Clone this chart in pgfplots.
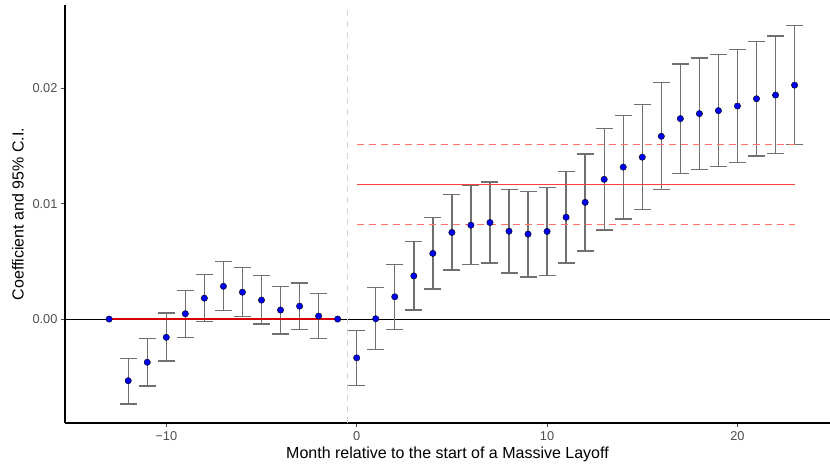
\documentclass[border=0pt]{standalone}
\usepackage{pgfplots}
\pgfplotsset{compat=1.18}
\usepackage{pgfplotstable}
\usepackage{fontspec}
\setmainfont{Liberation Sans}

\definecolor{ptblue}{HTML}{0000F0}
\definecolor{cigray}{HTML}{707070}
\definecolor{tickgray}{HTML}{4D4D4D}
\definecolor{avgred}{HTML}{FF4040}
\definecolor{bandred}{HTML}{FF7070}
\definecolor{vgray}{HTML}{D6D6D6}

% event-study coefficients and 95% CI bounds
\pgfplotstableread{
x y lo hi
-12 -0.00534 -0.00736 -0.00339
-11 -0.00374 -0.00580 -0.00167
-10 -0.00158 -0.00362 0.00052
-9 0.00046 -0.00161 0.00250
-8 0.00181 -0.00023 0.00388
-7 0.00284 0.00072 0.00497
-6 0.00233 0.00020 0.00448
-5 0.00164 -0.00043 0.00376
-4 0.00078 -0.00129 0.00284
-3 0.00112 -0.00092 0.00313
-2 0.00026 -0.00170 0.00224
0 -0.00336 -0.00575 -0.00098
1 0.00003 -0.00264 0.00273
2 0.00193 -0.00089 0.00474
3 0.00374 0.00078 0.00672
4 0.00569 0.00261 0.00879
5 0.00750 0.00425 0.01080
6 0.00813 0.00474 0.01155
7 0.00836 0.00486 0.01187
8 0.00761 0.00400 0.01124
9 0.00736 0.00365 0.01106
10 0.00759 0.00376 0.01140
11 0.00882 0.00486 0.01276
12 0.01011 0.00589 0.01431
13 0.01210 0.00770 0.01649
14 0.01316 0.00865 0.01764
15 0.01402 0.00948 0.01859
16 0.01583 0.01121 0.02049
17 0.01736 0.01261 0.02210
18 0.01779 0.01296 0.02262
19 0.01805 0.01322 0.02290
20 0.01845 0.01356 0.02333
21 0.01908 0.01411 0.02402
22 0.01940 0.01434 0.02451
23 0.02026 0.01511 0.02540
}\coef

\begin{document}
\begin{tikzpicture}
\path[use as bounding box] (0,0) rectangle (830bp,468bp);
\begin{axis}[
    at={(65bp,45bp)}, anchor=south west,
    scale only axis,
    width=765bp, height=418bp,
    xmin=-15.32, xmax=24.86,
    ymin=-0.0090, ymax=0.0272,
    axis lines*=left,
    axis line style={-, black, line width=1.1bp},
    tick align=outside,
    major tick length=4bp,
    tick style={tickgray, line width=0.9bp},
    scaled y ticks=false,
    xtick={-10,0,10,20},
    xticklabels={−10,0,10,20},
    ytick={0,0.01,0.02},
    yticklabels={0.00,0.01,0.02},
    ticklabel style={font=\fontsize{12.8bp}{14bp}\selectfont, text=tickgray},
    xticklabel style={yshift=-1bp},
    label style={font=\fontsize{16bp}{18bp}\selectfont},
    xlabel={Month relative to the start of a Massive Layoff},
    ylabel={Coefficient and 95\% C.I.},
    xlabel style={yshift=1bp},
    ylabel style={yshift=2bp},
    clip=false,
]
% reference lines
\addplot[black, line width=1.1bp] coordinates {(-15.32,0) (24.86,0)};
\addplot[vgray, line width=0.9bp, dash pattern=on 6bp off 5bp] coordinates {(-0.5,-0.0090) (-0.5,0.0272)};

% confidence intervals
\addplot[draw=none, mark=none,
    error bars/.cd, y dir=both, y explicit,
    error bar style={cigray, line width=1.4bp},
    error mark options={cigray, rotate=90, line width=1.4bp, mark size=8.5bp}]
    table[x=x, y=y,
      y error plus expr=\thisrow{hi}-\thisrow{y},
      y error minus expr=\thisrow{y}-\thisrow{lo}] {\coef};

% point estimates
\addplot[only marks, mark=*, mark size=3.2bp, mark options={fill=ptblue, draw=none}]
    table[x=x, y=y] {\coef};
\addplot[only marks, mark=*, mark size=3.2bp, mark options={fill=ptblue, draw=none}]
    coordinates {(-13,0) (-1,0)};

% average effects before and after
\addplot[bandred, line width=1.3bp, dash pattern=on 7bp off 5bp] coordinates {(-13,0) (-1,0)};
\addplot[red!85!black, line width=1.2bp] coordinates {(-13,0) (-1,0)};
\addplot[bandred, line width=1.3bp, dash pattern=on 7bp off 5bp] coordinates {(0,0.01512) (23,0.01512)};
\addplot[bandred, line width=1.3bp, dash pattern=on 7bp off 5bp] coordinates {(0,0.00819) (23,0.00819)};
\addplot[avgred, line width=1.6bp] coordinates {(0,0.01166) (23,0.01166)};
\end{axis}
\end{tikzpicture}
\end{document}
